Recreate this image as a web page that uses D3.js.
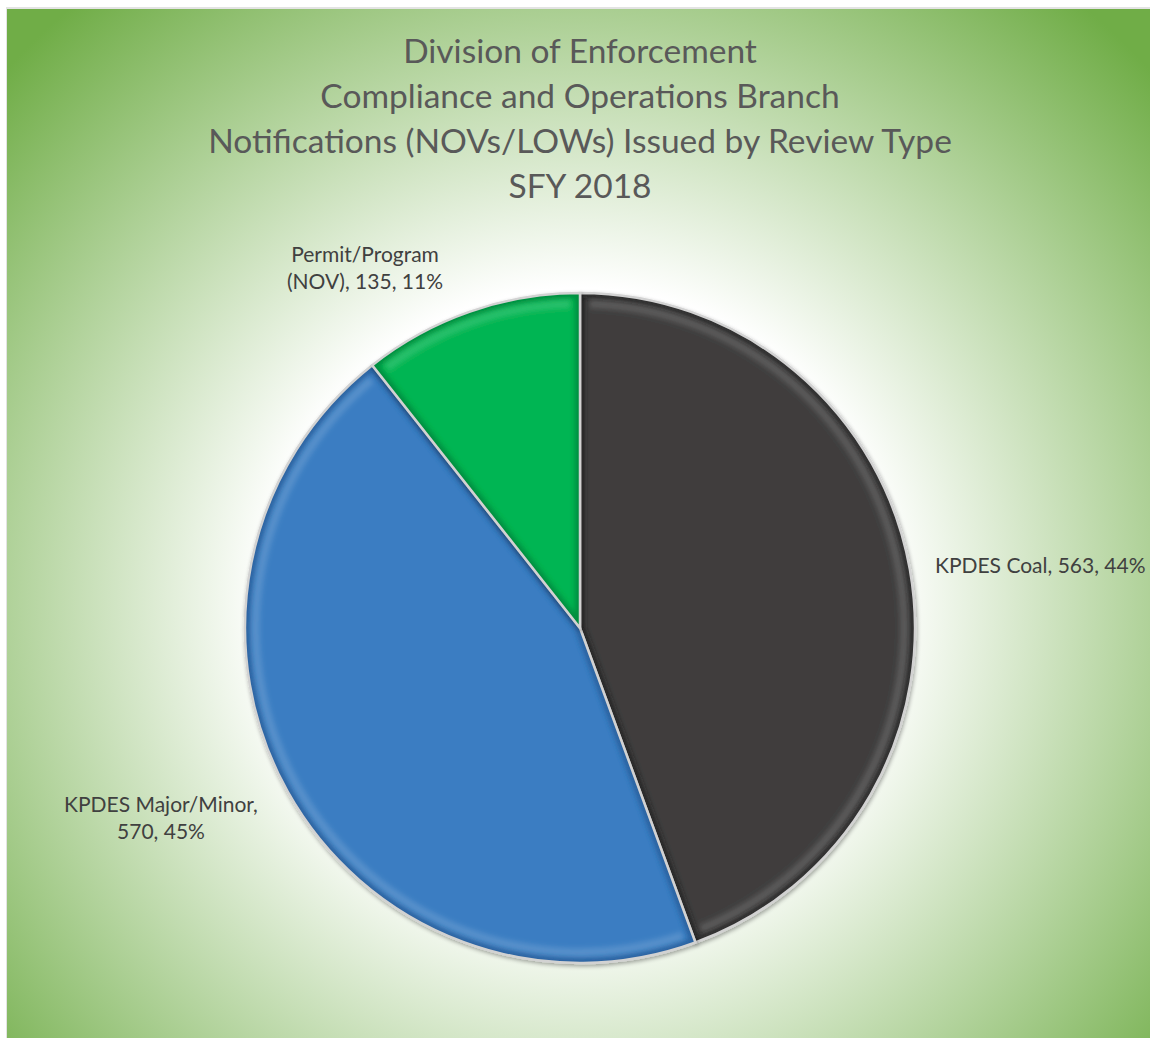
<!DOCTYPE html>
<html>
<head>
<meta charset="utf-8">
<script src="https://cdn.jsdelivr.net/npm/d3@7"></script>
<style>
  html, body { margin: 0; padding: 0; background: #ffffff; }
  svg { display: block; }
</style>
</head>
<body>
<div id="chart"></div>
<script>
// Review types and notification counts, SFY 2018
const categories = ["KPDES Coal", "KPDES Major/Minor", "Permit/Program (NOV)"];
const counts = [563, 570, 135];
const percents = ["44%", "45%", "11%"];
const sliceColors = ["#3f3e3e", "#3a7dc2", "#03b552"];
const edgeColors = ["#1a1a1a", "#1c5089", "#017533"];
const titleLines = [
  "Division of Enforcement",
  "Compliance and Operations Branch",
  "Notifications (NOVs/LOWs) Issued by Review Type",
  "SFY 2018"
];
// label lines as drawn beside each slice
const labelLines = [
  ["KPDES Coal, 563, 44%"],
  ["KPDES Major/Minor,", "570, 45%"],
  ["Permit/Program", "(NOV), 135, 11%"]
];

const W = 1150, H = 1038;
const svg = d3.select("#chart").append("svg")
  .attr("width", W).attr("height", H);
const defs = svg.append("defs");

// background panel with radial fill
const bg = defs.append("radialGradient")
  .attr("id", "bgGrad")
  .attr("gradientUnits", "userSpaceOnUse")
  .attr("cx", 578).attr("cy", 600).attr("r", 780);
bg.append("stop").attr("offset", 0).attr("stop-color", "#ffffff");
bg.append("stop").attr("offset", 0.4).attr("stop-color", "#ffffff");
bg.append("stop").attr("offset", 1).attr("stop-color", "#70ad47");

svg.append("rect")
  .attr("x", 6).attr("y", 7).attr("width", W - 6).attr("height", H - 7)
  .attr("fill", "#e3e3e3");
svg.append("rect")
  .attr("x", 7).attr("y", 9).attr("width", W - 7).attr("height", H - 9)
  .attr("fill", "url(#bgGrad)");

// title
const title = svg.append("g")
  .attr("font-family", "Lato, 'Open Sans', sans-serif")
  .attr("font-size", 33.5)
  .attr("fill", "#595959")
  .attr("text-anchor", "middle");
title.selectAll("text")
  .data(titleLines)
  .join("text")
  .attr("x", 580)
  .attr("y", (d, i) => 63 + i * 45)
  .text(d => d);

// pie
const cx = 580, cy = 628, R = 335;
const pie = d3.pie().sort(null).value(d => d);
const arcs = pie(counts);
const arc = d3.arc().innerRadius(0).outerRadius(R);

const blur = defs.append("filter").attr("id", "edgeBlur")
  .attr("x", "-10%").attr("y", "-10%").attr("width", "120%").attr("height", "120%");
blur.append("feGaussianBlur").attr("stdDeviation", 2.5);

const shadow = defs.append("filter").attr("id", "pieShadow")
  .attr("x", "-10%").attr("y", "-10%").attr("width", "120%").attr("height", "120%");
shadow.append("feGaussianBlur").attr("in", "SourceAlpha").attr("stdDeviation", 2).attr("result", "b");
shadow.append("feOffset").attr("dx", 1).attr("dy", 2).attr("result", "o");
shadow.append("feComponentTransfer").append("feFuncA").attr("type", "linear").attr("slope", 0.35);
const merge = shadow.append("feMerge");
merge.append("feMergeNode");
merge.append("feMergeNode").attr("in", "SourceGraphic");

const g = svg.append("g").attr("transform", `translate(${cx},${cy})`);

arcs.forEach((a, i) => {
  defs.append("clipPath").attr("id", "clip" + i)
    .append("path").attr("d", arc(a));
});

const slices = g.selectAll("g.slice")
  .data(arcs)
  .join("g")
  .attr("class", "slice")
  .attr("filter", "url(#pieShadow)");

slices.append("path")
  .attr("d", arc)
  .attr("fill", (d, i) => sliceColors[i]);

// bevelled inner edge
slices.append("path")
  .attr("d", arc)
  .attr("fill", "none")
  .attr("stroke", (d, i) => edgeColors[i])
  .attr("stroke-width", 10)
  .attr("stroke-opacity", 0.6)
  .attr("filter", "url(#edgeBlur)")
  .attr("clip-path", (d, i) => `url(#clip${i})`);

// light rim highlight along the outer arc
slices.append("path")
  .attr("d", d3.arc().innerRadius(R - 15).outerRadius(R - 6)
    .startAngle(d => d.startAngle + 0.03).endAngle(d => d.endAngle - 0.03))
  .attr("fill", "#ffffff")
  .attr("fill-opacity", 0.14)
  .attr("filter", "url(#edgeBlur)");

slices.append("path")
  .attr("d", arc)
  .attr("fill", "none")
  .attr("stroke", "#d2d2d2")
  .attr("stroke-width", 2.5)
  .attr("stroke-linejoin", "round");

// data labels
const labelPos = [
  { x: 935, y: 573, anchor: "start" },
  { x: 161, y: 812, anchor: "middle" },
  { x: 365, y: 262, anchor: "middle" }
];
const labels = svg.append("g")
  .attr("font-family", "Lato, 'Open Sans', sans-serif")
  .attr("font-size", 21)
  .attr("fill", "#404040");
labelLines.forEach((lines, i) => {
  const t = labels.append("text")
    .attr("x", labelPos[i].x)
    .attr("y", labelPos[i].y)
    .attr("text-anchor", labelPos[i].anchor);
  lines.forEach((ln, j) => {
    t.append("tspan")
      .attr("x", labelPos[i].x)
      .attr("dy", j === 0 ? 0 : 27)
      .text(ln);
  });
});
</script>
</body>
</html>
